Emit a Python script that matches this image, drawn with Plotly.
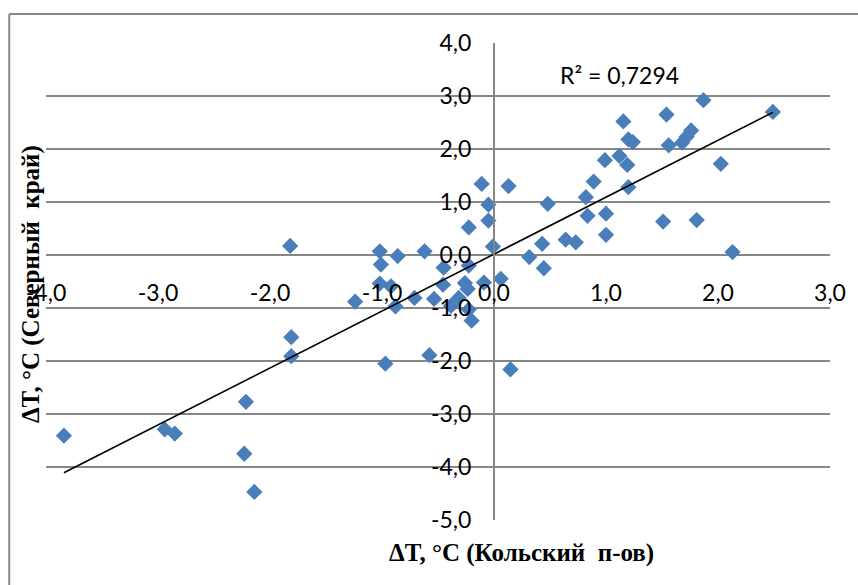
import numpy as np
import plotly.graph_objects as go

# Temperature anomalies, °C: Kola Peninsula (x) vs. Northern region (y)
kola_dt = [
    -3.84, -2.94, -2.85, -2.215, -2.23, -2.14, -1.82, -1.81, -1.81,
    -0.11, 0.13, -0.05, -0.05, -0.225, -0.01, -1.02, -0.86, -0.62, -1.01,
    -0.45, -0.225, 0.315, -1.02, -0.92, -0.455, -0.26, -0.235, -0.09, 0.06,
    -1.24, -0.88, -0.71, -0.535, -0.385, -0.315, -0.225, -0.20, -0.97,
    -0.577, 0.147,
    0.43, 0.445, 0.48, 0.64, 0.73, 0.82, 0.835, 0.89, 1.0, 1.0, 0.99, 1.12,
    1.19, 1.20, 1.155, 1.20, 1.24, 1.54, 1.56, 1.51, 1.68, 1.72, 1.76, 1.87,
    2.49, 2.025, 1.81, 2.13,
]
north_dt = [
    -3.41, -3.29, -3.37, -2.77, -3.75, -4.47, 0.17, -1.55, -1.91,
    1.34, 1.30, 0.95, 0.65, 0.52, 0.16, 0.07, -0.02, 0.07, -0.18,
    -0.24, -0.20, -0.04, -0.54, -0.59, -0.56, -0.53, -0.64, -0.52, -0.45,
    -0.88, -0.97, -0.81, -0.83, -0.96, -0.81, -1.03, -1.24, -2.05,
    -1.89, -2.16,
    0.21, -0.25, 0.965, 0.29, 0.24, 1.09, 0.74, 1.385, 0.78, 0.38, 1.79, 1.87,
    1.70, 1.28, 2.52, 2.18, 2.13, 2.65, 2.07, 0.63, 2.12, 2.23, 2.35, 2.92,
    2.70, 1.72, 0.66, 0.055,
]

x_ticks = [-4, -3, -2, -1, 0, 1, 2, 3]
y_ticks = [-5, -4, -3, -2, -1, 0, 1, 2, 3, 4]
r2_label = "R² = 0,7294"
x_title = "ΔT, °C (Кольский  п-ов)"
y_title = "ΔT, °C (Северный  край)"


def tick_text(values):
    # one decimal, comma separator, plain hyphen for negatives
    return [f"{v:.1f}".replace(".", ",") for v in values]


# Linear trend fitted to the points
slope, intercept = np.polyfit(kola_dt, north_dt, 1)
trend_x = [min(kola_dt), max(kola_dt)]
trend_y = [slope * v + intercept for v in trend_x]

GRID = "#878787"
BLUE = "#4a7ebb"
TICK_FONT = dict(family="Lato, Open Sans, sans-serif", size=23, color="black")
TITLE_FONT = dict(family="Liberation Serif, Times New Roman, serif", size=25, color="black")

fig = go.Figure()
fig.add_trace(go.Scatter(
    x=kola_dt, y=north_dt, mode="markers",
    marker=dict(symbol="diamond", size=12.5, color=BLUE, line=dict(width=0)),
    showlegend=False, hoverinfo="x+y",
))
fig.add_trace(go.Scatter(
    x=trend_x, y=trend_y, mode="lines",
    line=dict(color="black", width=1.6),
    showlegend=False, hoverinfo="skip",
))

W, H = 858, 585
ML, MR, MT, MB = 46, 23, 43, 65
PW, PH = W - ML - MR, H - MT - MB
x_range = [-4, 3]
y_range = [-5, 4]
# positions of the crossing axes in paper units
x_zero = (0 - x_range[0]) / (x_range[1] - x_range[0])
y_zero = (0 - y_range[0]) / (y_range[1] - y_range[0])

fig.update_layout(
    width=W, height=H,
    margin=dict(l=ML, r=MR, t=MT, b=MB),
    plot_bgcolor="white", paper_bgcolor="white",
    xaxis=dict(
        range=x_range, tickvals=x_ticks, ticktext=tick_text(x_ticks),
        showgrid=False, zeroline=False, showline=False,
        anchor="free", position=y_zero,
        ticks="", ticklabelstandoff=22, tickfont=TICK_FONT,
    ),
    yaxis=dict(
        range=y_range, tickvals=y_ticks, ticktext=tick_text(y_ticks),
        showgrid=True, gridcolor=GRID, gridwidth=2,
        zeroline=False, showline=True, linecolor=GRID, linewidth=2,
        anchor="free", position=x_zero,
        ticks="", ticklabelstandoff=17, tickfont=TICK_FONT,
    ),
    annotations=[
        dict(text=r2_label, xref="paper", yref="paper",
             x=(561 - ML) / PW, y=(H - MB - 75) / PH,
             xanchor="left", yanchor="middle", showarrow=False,
             font=TICK_FONT),
        dict(text="<b>" + x_title + "</b>", xref="paper", yref="paper",
             x=(525 - ML) / PW, y=(H - MB - 553) / PH,
             xanchor="center", yanchor="middle", showarrow=False,
             font=TITLE_FONT),
        dict(text="<b>" + y_title + "</b>", xref="paper", yref="paper",
             x=(31 - ML) / PW, y=(H - MB - 284) / PH,
             xanchor="center", yanchor="middle", showarrow=False,
             textangle=-90, font=TITLE_FONT),
    ],
    shapes=[
        # chart frame (top and left edges visible)
        dict(type="line", xref="paper", yref="paper", layer="below",
             x0=(9 - ML) / PW, x1=1.2,
             y0=(H - MB - 14) / PH, y1=(H - MB - 14) / PH,
             line=dict(color=GRID, width=2)),
        dict(type="line", xref="paper", yref="paper", layer="below",
             x0=(9 - ML) / PW, x1=(9 - ML) / PW,
             y0=-0.3, y1=(H - MB - 14) / PH,
             line=dict(color=GRID, width=2)),
    ],
)

fig.write_html("out.html")
